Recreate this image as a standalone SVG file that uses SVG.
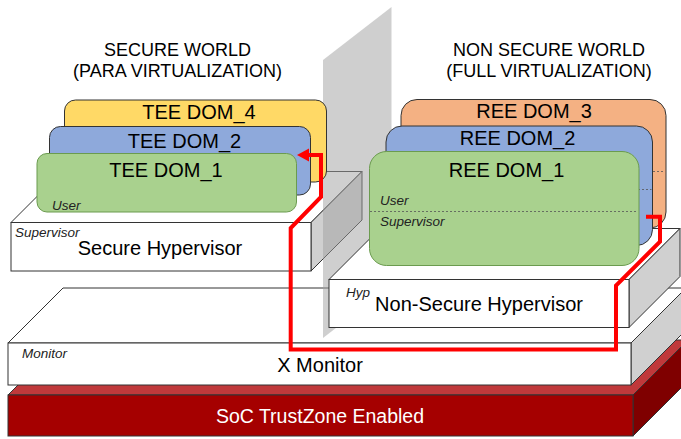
<svg xmlns="http://www.w3.org/2000/svg" width="681" height="439" viewBox="0 0 681 439">
<defs>
<style>
text{font-family:"Liberation Sans",Arial,sans-serif;fill:#000}
.big{font-size:20px;text-anchor:middle}
.title{font-size:18px;text-anchor:middle}
.small{font-size:13.5px;font-style:italic;fill:#222}
.front{fill:#fff;stroke:#333;stroke-width:1}
.side{fill:#d0d0d0;stroke:#333;stroke-width:1}
.dash{stroke:#555;stroke-width:0.8;stroke-dasharray:2,2;fill:none}
.red{fill:none;stroke:#ff0000;stroke-width:4;stroke-linejoin:miter}
</style>
</defs>
<rect width="681" height="439" fill="#fff"/>

<g id="soc">
<polygon points="8,395 633,395 688,340 63,340" fill="#c0393b" stroke="#333" stroke-width="1"/>
<polygon points="633,395 688,340 688,381 633,436" fill="#7f0000" stroke="#333" stroke-width="1"/>
<rect x="8" y="395" width="625" height="41" fill="#a50000" stroke="#333" stroke-width="1"/>
<text x="320" y="422.5" class="big" style="fill:#fff;font-size:19.5px">SoC TrustZone Enabled</text>
</g>

<g id="xmonitor">
<polygon points="8,343 631,343 686,288 63,288" class="front"/>
<polygon points="631,343 686,288 686,330 631,385" class="side"/>
<rect x="8" y="343" width="623" height="42" class="front"/>
<text x="22" y="358" class="small">Monitor</text>
<text x="320" y="372" class="big">X Monitor</text>
</g>

<g id="secure-hypervisor">
<polygon points="11,222.5 311,222.5 362,171.5 62,171.5" class="front"/>
<polygon points="311,222.5 362,171.5 362,220 311,271" class="side"/>
<rect x="11" y="222.5" width="300" height="48.5" class="front"/>
<text x="15" y="237" class="small">Supervisor</text>
<text x="160" y="255" class="big">Secure Hypervisor</text>
</g>

<g id="wall">
<polygon points="323,60 391.5,7 391.5,285 323,338" fill="#a0a0a0" fill-opacity="0.5"/>
</g>

<g id="nonsecure-hypervisor">
<polygon points="329,279.5 629,279.5 680,228.5 380,228.5" class="front"/>
<polygon points="629,279.5 680,228.5 680,276.5 629,327.5" class="side"/>
<rect x="329" y="279.5" width="300" height="48" class="front"/>
<text x="346" y="296.5" class="small">Hyp</text>
<text x="479" y="311" class="big">Non-Secure Hypervisor</text>
</g>

<g id="tee-dom-4">
<rect x="64.5" y="100" width="262" height="82" rx="11" fill="#ffd966" stroke="#333" stroke-width="1"/>
<text x="199" y="118.5" class="big">TEE DOM_4</text>
</g>
<g id="tee-dom-2">
<rect x="49.5" y="126.5" width="261" height="68.5" rx="11" fill="#8ea9db" stroke="#333" stroke-width="1"/>
<text x="184.5" y="148" class="big">TEE DOM_2</text>
</g>
<g id="tee-dom-1">
<rect x="37" y="153.5" width="259.5" height="58.5" rx="10" fill="#a9d18e" stroke="#6b9b4f" stroke-width="1"/>
<text x="166" y="177" class="big">TEE DOM_1</text>
<text x="52" y="210" class="small">User</text>
</g>

<g id="ree-dom-3">
<rect x="401" y="99.5" width="265" height="128.5" rx="16" fill="#f4b183" stroke="#333" stroke-width="1"/>
<line x1="401" y1="171.5" x2="665" y2="171.5" class="dash"/>
<text x="534" y="118" class="big">REE DOM_3</text>
</g>
<g id="ree-dom-2">
<rect x="386" y="126" width="266.5" height="119.5" rx="16" fill="#8ea9db" stroke="#333" stroke-width="1"/>
<line x1="386" y1="189.5" x2="651.5" y2="189.5" class="dash"/>
<text x="517.5" y="144.5" class="big">REE DOM_2</text>
</g>
<g id="ree-dom-1">
<rect x="369.5" y="151.5" width="269.5" height="114" rx="17" fill="#a9d18e" stroke="#6b9b4f" stroke-width="1"/>
<line x1="370" y1="211.5" x2="636" y2="211.5" class="dash"/>
<text x="506.5" y="177" class="big">REE DOM_1</text>
<text x="380" y="204.5" class="small">User</text>
<text x="380" y="226" class="small">Supervisor</text>
</g>

<g id="connectors">
<path d="M646,216.7 H660 V241.7 L616,285.5 V349.5 H290.7 V228 L321,197 V155 H307" class="red"/>
<polygon points="297,155 309,148.5 309,161.5" fill="#ff0000"/>
</g>

<g id="labels">
<text x="177.5" y="56" class="title">SECURE WORLD</text>
<text x="177.5" y="77" class="title">(PARA VIRTUALIZATION)</text>
<text x="549" y="56" class="title">NON SECURE WORLD</text>
<text x="549" y="77" class="title">(FULL VIRTUALIZATION)</text>
</g>
</svg>
